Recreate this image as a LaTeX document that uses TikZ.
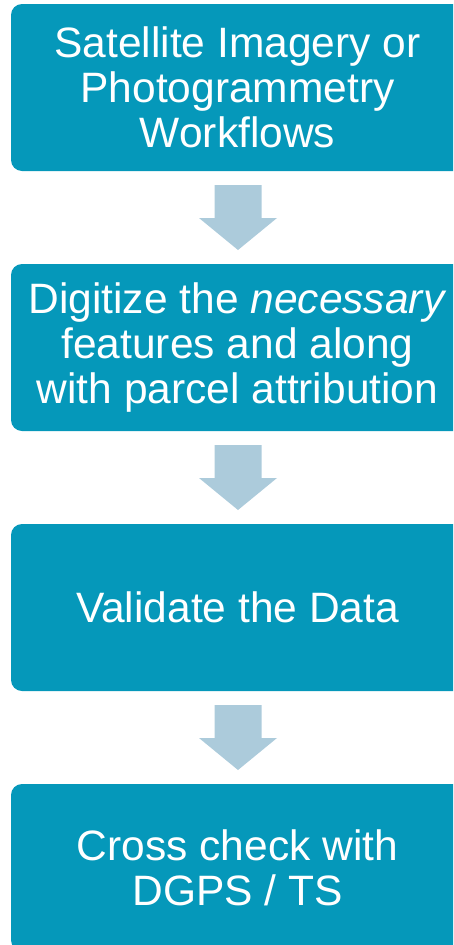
\documentclass[tikz,border=0pt]{standalone}
\usepackage{fontspec}
\setmainfont{Liberation Sans}
\usetikzlibrary{calc}
\definecolor{stepteal}{RGB}{5,152,186}
\definecolor{arrowblue}{RGB}{172,203,219}
\tikzset{
  stepbox/.style={fill=stepteal, rounded corners=11pt, minimum width=453pt,
    minimum height=167pt, text=white, align=center, inner sep=0pt,
    font=\fontsize{42.5}{45}\selectfont},
  flowarrow/.style={fill=arrowblue}
}
\newcommand{\downarrowat}[1]{%
  \fill[flowarrow] ($#1+(-23.5pt,32.5pt)$) -- ($#1+(23.5pt,32.5pt)$)
    -- ($#1+(23.5pt,-0.5pt)$) -- ($#1+(39pt,-0.5pt)$)
    -- ($#1+(0pt,-32.5pt)$) -- ($#1+(-39pt,-0.5pt)$)
    -- ($#1+(-23.5pt,-0.5pt)$) -- cycle;}
\begin{document}
\begin{tikzpicture}[x=1pt,y=1pt]
\useasboundingbox (0,0) rectangle (453,-945);
\clip (0,0) rectangle (453,-945);
\node[stepbox] (s1) at (237.5,-87.5) {Satellite Imagery or\\Photogrammetry\\Workflows};
\node[stepbox] (s2) at (237.5,-347.5) {Digitize the \textit{necessary}\\features and along\\with parcel attribution};
\node[stepbox] (s3) at (237.5,-607.5) {Validate the Data};
\node[stepbox] (s4) at (237.5,-867.5) {Cross check with\\DGPS / TS};
\coordinate (m1) at ($(s1.south)!0.5!(s2.north)+(0.5,0)$);
\coordinate (m2) at ($(s2.south)!0.5!(s3.north)+(0.5,0)$);
\coordinate (m3) at ($(s3.south)!0.5!(s4.north)+(0.5,0)$);
\downarrowat{(m1)}
\downarrowat{(m2)}
\downarrowat{(m3)}
\end{tikzpicture}
\end{document}
